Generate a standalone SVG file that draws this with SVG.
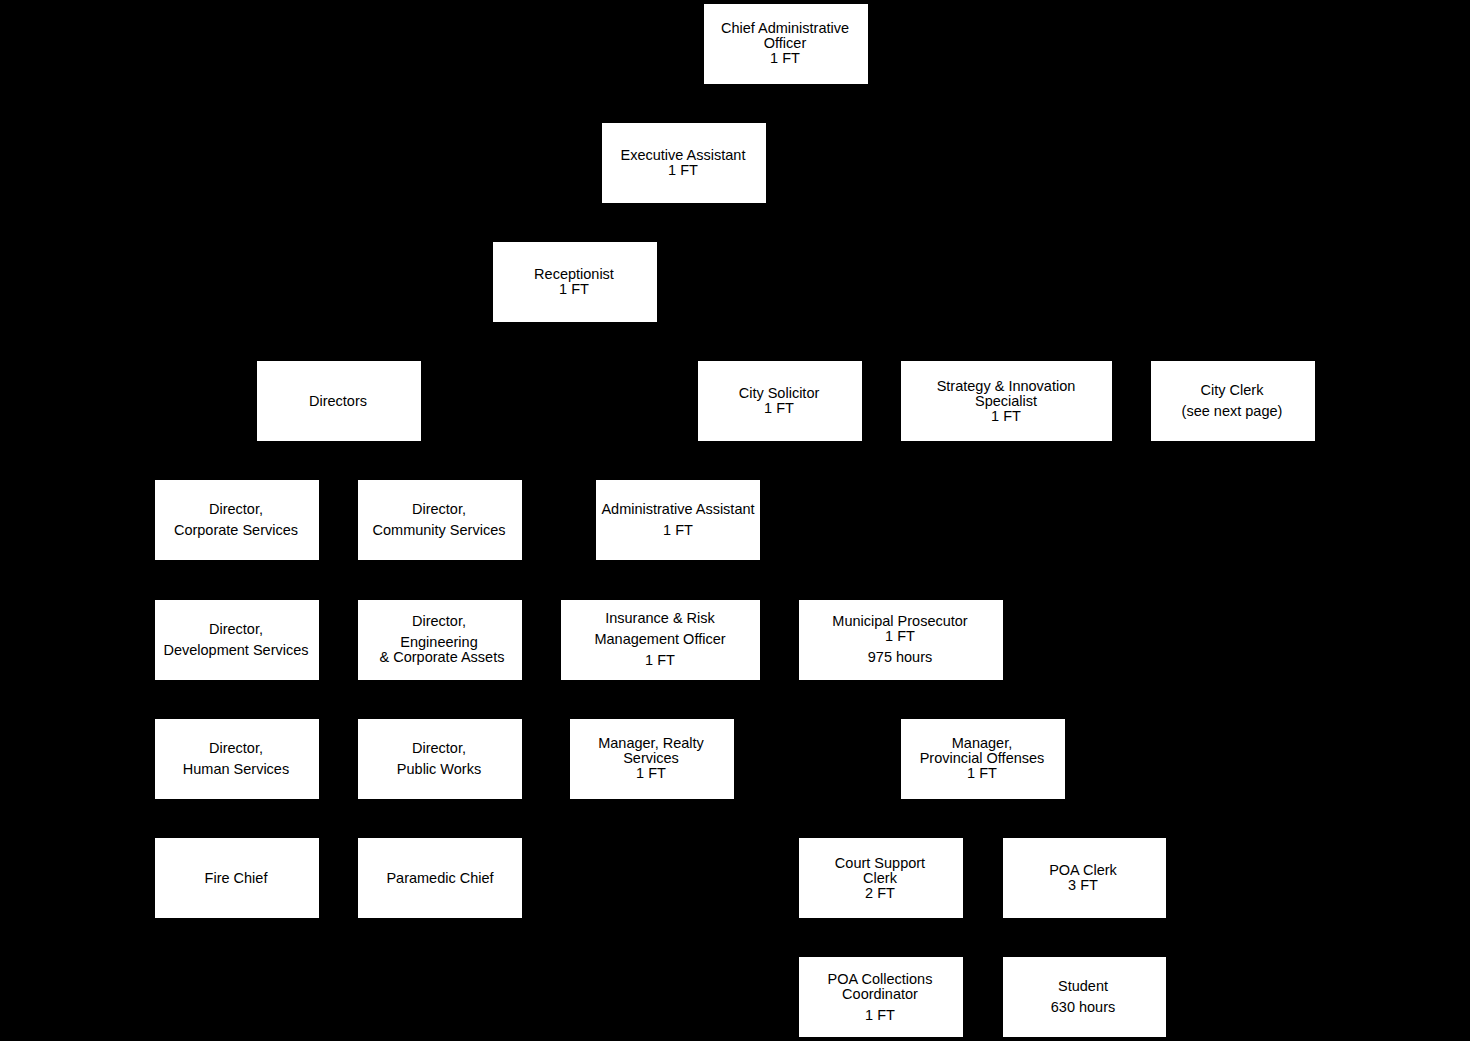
<svg xmlns="http://www.w3.org/2000/svg" width="1470" height="1041" viewBox="0 0 1470 1041">
<style>
.box{fill:#ffffff;stroke:none}
text{font-family:"Liberation Sans",Arial,sans-serif;font-size:14.5px;fill:#000000;text-anchor:middle}
</style>
<rect x="0" y="0" width="1470" height="1041" fill="#000000"/>
<g id="connectors"></g>
<g transform="translate(0,1)">
<g id="cao"><rect class="box" x="704" y="3" width="164" height="80"/><text x="785" y="32">Chief Administrative</text><text x="785" y="47">Officer</text><text x="785" y="62">1 FT</text></g>
<g id="exec-assistant"><rect class="box" x="602" y="122" width="164" height="80"/><text x="683" y="159">Executive Assistant</text><text x="683" y="174">1 FT</text></g>
<g id="receptionist"><rect class="box" x="493" y="241" width="164" height="80"/><text x="574" y="278">Receptionist</text><text x="574" y="293">1 FT</text></g>
<g id="directors"><rect class="box" x="257" y="360" width="164" height="80"/><text x="338" y="405">Directors</text></g>
<g id="city-solicitor"><rect class="box" x="698" y="360" width="164" height="80"/><text x="779" y="397">City Solicitor</text><text x="779" y="412">1 FT</text></g>
<g id="strategy"><rect class="box" x="901" y="360" width="211" height="80"/><text x="1006" y="390">Strategy &amp; Innovation</text><text x="1006" y="405">Specialist</text><text x="1006" y="420">1 FT</text></g>
<g id="city-clerk"><rect class="box" x="1151" y="360" width="164" height="80"/><text x="1232" y="394">City Clerk</text><text x="1232" y="415">(see next page)</text></g>
<g id="dir-corporate"><rect class="box" x="155" y="479" width="164" height="80"/><text x="236" y="513">Director,</text><text x="236" y="534">Corporate Services</text></g>
<g id="dir-community"><rect class="box" x="358" y="479" width="164" height="80"/><text x="439" y="513">Director,</text><text x="439" y="534">Community Services</text></g>
<g id="admin-assistant"><rect class="box" x="596" y="479" width="164" height="80"/><text x="678" y="513">Administrative Assistant</text><text x="678" y="534">1 FT</text></g>
<g id="dir-development"><rect class="box" x="155" y="599" width="164" height="80"/><text x="236" y="633">Director,</text><text x="236" y="654">Development Services</text></g>
<g id="dir-engineering"><rect class="box" x="358" y="599" width="164" height="80"/><text x="439" y="625">Director,</text><text x="439" y="646">Engineering</text><text x="442" y="661">&amp; Corporate Assets</text></g>
<g id="insurance"><rect class="box" x="561" y="599" width="199" height="80"/><text x="660" y="622">Insurance &amp; Risk</text><text x="660" y="643">Management Officer</text><text x="660" y="664">1 FT</text></g>
<g id="municipal-prosecutor"><rect class="box" x="799" y="599" width="204" height="80"/><text x="900" y="625">Municipal Prosecutor</text><text x="900" y="640">1 FT</text><text x="900" y="661">975 hours</text></g>
<g id="dir-human"><rect class="box" x="155" y="718" width="164" height="80"/><text x="236" y="752">Director,</text><text x="236" y="773">Human Services</text></g>
<g id="dir-publicworks"><rect class="box" x="358" y="718" width="164" height="80"/><text x="439" y="752">Director,</text><text x="439" y="773">Public Works</text></g>
<g id="manager-realty"><rect class="box" x="570" y="718" width="164" height="80"/><text x="651" y="747">Manager, Realty</text><text x="651" y="762">Services</text><text x="651" y="777">1 FT</text></g>
<g id="manager-poa"><rect class="box" x="901" y="718" width="164" height="80"/><text x="982" y="747">Manager,</text><text x="982" y="762">Provincial Offenses</text><text x="982" y="777">1 FT</text></g>
<g id="fire-chief"><rect class="box" x="155" y="837" width="164" height="80"/><text x="236" y="882">Fire Chief</text></g>
<g id="paramedic-chief"><rect class="box" x="358" y="837" width="164" height="80"/><text x="440" y="882">Paramedic Chief</text></g>
<g id="court-support"><rect class="box" x="799" y="837" width="164" height="80"/><text x="880" y="867">Court Support</text><text x="880" y="882">Clerk</text><text x="880" y="897">2 FT</text></g>
<g id="poa-clerk"><rect class="box" x="1003" y="837" width="163" height="80"/><text x="1083" y="874">POA Clerk</text><text x="1083" y="889">3 FT</text></g>
<g id="poa-collections"><rect class="box" x="799" y="956" width="164" height="80"/><text x="880" y="983">POA Collections</text><text x="880" y="998">Coordinator</text><text x="880" y="1019">1 FT</text></g>
<g id="student"><rect class="box" x="1003" y="956" width="163" height="80"/><text x="1083" y="990">Student</text><text x="1083" y="1011">630 hours</text></g>
</g>
</svg>
